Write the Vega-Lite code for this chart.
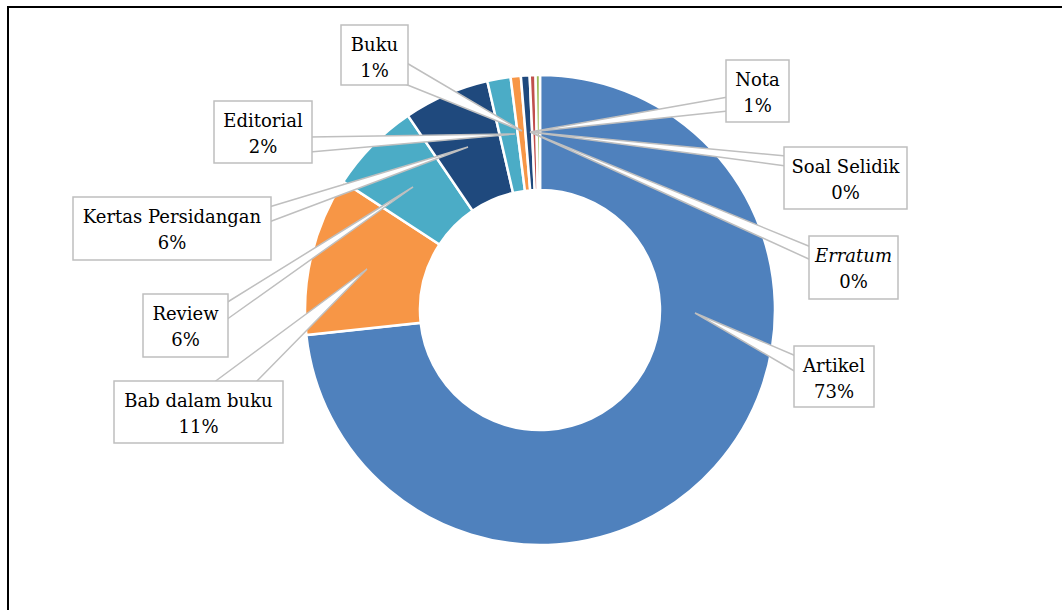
{
  "$schema": "https://vega.github.io/schema/vega-lite/v6.json",
  "width": 1064,
  "height": 606,
  "autosize": {"type": "none"},
  "padding": {"left": 8, "top": 7, "right": -10, "bottom": -3},
  "background": "white",
  "config": {
    "view": {"stroke": "black", "strokeWidth": 2}
  },
  "datasets": {
    "slices": [
      {"name": "Artikel", "value": 73.3, "idx": 1},
      {"name": "Bab dalam buku", "value": 10.9, "idx": 2},
      {"name": "Review", "value": 6.3, "idx": 3},
      {"name": "Kertas Persidangan", "value": 5.9, "idx": 4},
      {"name": "Editorial", "value": 1.6, "idx": 5},
      {"name": "Buku", "value": 0.7, "idx": 6},
      {"name": "Nota", "value": 0.6, "idx": 7},
      {"name": "Soal Selidik", "value": 0.4, "idx": 8},
      {"name": "Erratum", "value": 0.3, "idx": 9}
    ],
    "callouts": [
      {"name": "Buku", "pct": "1%", "x1": -199, "x2": -132, "y1": -285, "y2": -225, "cx": -165.5},
      {"name": "Editorial", "pct": "2%", "x1": -326, "x2": -228, "y1": -209, "y2": -147, "cx": -277},
      {"name": "Kertas Persidangan", "pct": "6%", "x1": -467, "x2": -269, "y1": -113, "y2": -50, "cx": -368},
      {"name": "Review", "pct": "6%", "x1": -397, "x2": -312, "y1": -16, "y2": 47, "cx": -354.5},
      {"name": "Bab dalam buku", "pct": "11%", "x1": -426, "x2": -257, "y1": 71, "y2": 133, "cx": -341.5},
      {"name": "Nota", "pct": "1%", "x1": 186, "x2": 249, "y1": -250, "y2": -188, "cx": 217.5},
      {"name": "Soal Selidik", "pct": "0%", "x1": 244, "x2": 367, "y1": -163, "y2": -101, "cx": 305.5},
      {"name": "Erratum", "pct": "0%", "x1": 269, "x2": 358, "y1": -74, "y2": -11, "cx": 313.5},
      {"name": "Artikel", "pct": "73%", "x1": 254, "x2": 334, "y1": 36, "y2": 97, "cx": 294}
    ],
    "leaders": [
      {"label": "Buku", "k": 1, "x": -135, "y": -248},
      {"label": "Buku", "k": 2, "x": -18, "y": -179},
      {"label": "Buku", "k": 3, "x": -135, "y": -226},
      {"label": "Editorial", "k": 1, "x": -230, "y": -173},
      {"label": "Editorial", "k": 2, "x": -25, "y": -176},
      {"label": "Editorial", "k": 3, "x": -230, "y": -158},
      {"label": "Kertas Persidangan", "k": 1, "x": -271, "y": -103},
      {"label": "Kertas Persidangan", "k": 2, "x": -72, "y": -163},
      {"label": "Kertas Persidangan", "k": 3, "x": -271, "y": -88},
      {"label": "Review", "k": 1, "x": -314, "y": -7},
      {"label": "Review", "k": 2, "x": -127, "y": -123},
      {"label": "Review", "k": 3, "x": -314, "y": 10},
      {"label": "Bab dalam buku", "k": 1, "x": -327, "y": 73},
      {"label": "Bab dalam buku", "k": 2, "x": -173, "y": -41},
      {"label": "Bab dalam buku", "k": 3, "x": -285, "y": 73},
      {"label": "Nota", "k": 1, "x": 188, "y": -213},
      {"label": "Nota", "k": 2, "x": -10, "y": -178},
      {"label": "Nota", "k": 3, "x": 188, "y": -199},
      {"label": "Soal Selidik", "k": 1, "x": 246, "y": -154},
      {"label": "Soal Selidik", "k": 2, "x": -10, "y": -178},
      {"label": "Soal Selidik", "k": 3, "x": 246, "y": -144},
      {"label": "Erratum", "k": 1, "x": 271, "y": -63},
      {"label": "Erratum", "k": 2, "x": -10, "y": -178},
      {"label": "Erratum", "k": 3, "x": 271, "y": -50},
      {"label": "Artikel", "k": 1, "x": 256, "y": 46},
      {"label": "Artikel", "k": 2, "x": 155, "y": 3},
      {"label": "Artikel", "k": 3, "x": 256, "y": 62}
    ]
  },
  "layer": [
    {
      "data": {"name": "slices"},
      "mark": {"type": "arc", "outerRadius": 235, "innerRadius": 120, "stroke": "white", "strokeWidth": 2.5},
      "encoding": {
        "theta": {"field": "value", "type": "quantitative", "stack": true},
        "order": {"field": "idx", "type": "quantitative"},
        "color": {
          "field": "name",
          "type": "nominal",
          "legend": null,
          "scale": {
            "domain": ["Artikel", "Bab dalam buku", "Review", "Kertas Persidangan", "Editorial", "Buku", "Nota", "Soal Selidik", "Erratum"],
            "range": ["#4F81BD", "#F79646", "#4BACC6", "#1F497D", "#4BACC6", "#F79646", "#1F497D", "#C0504D", "#9BBB59"]
          }
        }
      }
    },
    {
      "data": {"name": "leaders"},
      "mark": {"type": "line", "stroke": "#BFBFBF", "strokeWidth": 1.5, "fill": "white", "interpolate": "linear"},
      "encoding": {
        "x": {"field": "x", "type": "quantitative", "scale": {"domain": [-532, 532], "nice": false, "zero": false}, "axis": null},
        "y": {"field": "y", "type": "quantitative", "scale": {"domain": [-303, 303], "nice": false, "zero": false, "reverse": true}, "axis": null},
        "detail": {"field": "label", "type": "nominal"},
        "order": {"field": "k", "type": "quantitative"}
      }
    },
    {
      "data": {"name": "callouts"},
      "mark": {"type": "rect", "fill": "white", "stroke": "#BFBFBF", "strokeWidth": 1.5},
      "encoding": {
        "x": {"field": "x1", "type": "quantitative", "scale": {"domain": [-532, 532], "nice": false, "zero": false}, "axis": null},
        "x2": {"field": "x2"},
        "y": {"field": "y1", "type": "quantitative", "scale": {"domain": [-303, 303], "nice": false, "zero": false, "reverse": true}, "axis": null},
        "y2": {"field": "y2"}
      }
    },
    {
      "data": {"name": "callouts"},
      "transform": [{"filter": "datum.name !== 'Erratum'"}],
      "mark": {"type": "text", "baseline": "alphabetic", "align": "center", "yOffset": 26, "font": "DejaVu Serif", "fontSize": 18, "color": "black"},
      "encoding": {
        "x": {"field": "cx", "type": "quantitative", "scale": {"domain": [-532, 532], "nice": false, "zero": false}, "axis": null},
        "y": {"field": "y1", "type": "quantitative", "scale": {"domain": [-303, 303], "nice": false, "zero": false, "reverse": true}, "axis": null},
        "text": {"field": "name"}
      }
    },
    {
      "data": {"name": "callouts"},
      "transform": [{"filter": "datum.name === 'Erratum'"}],
      "mark": {"type": "text", "baseline": "alphabetic", "align": "center", "yOffset": 26, "font": "DejaVu Serif", "fontSize": 18, "fontStyle": "italic", "color": "black"},
      "encoding": {
        "x": {"field": "cx", "type": "quantitative", "scale": {"domain": [-532, 532], "nice": false, "zero": false}, "axis": null},
        "y": {"field": "y1", "type": "quantitative", "scale": {"domain": [-303, 303], "nice": false, "zero": false, "reverse": true}, "axis": null},
        "text": {"field": "name"}
      }
    },
    {
      "data": {"name": "callouts"},
      "mark": {"type": "text", "baseline": "alphabetic", "align": "center", "yOffset": 52, "font": "DejaVu Serif", "fontSize": 18, "color": "black"},
      "encoding": {
        "x": {"field": "cx", "type": "quantitative", "scale": {"domain": [-532, 532], "nice": false, "zero": false}, "axis": null},
        "y": {"field": "y1", "type": "quantitative", "scale": {"domain": [-303, 303], "nice": false, "zero": false, "reverse": true}, "axis": null},
        "text": {"field": "pct"}
      }
    }
  ]
}
